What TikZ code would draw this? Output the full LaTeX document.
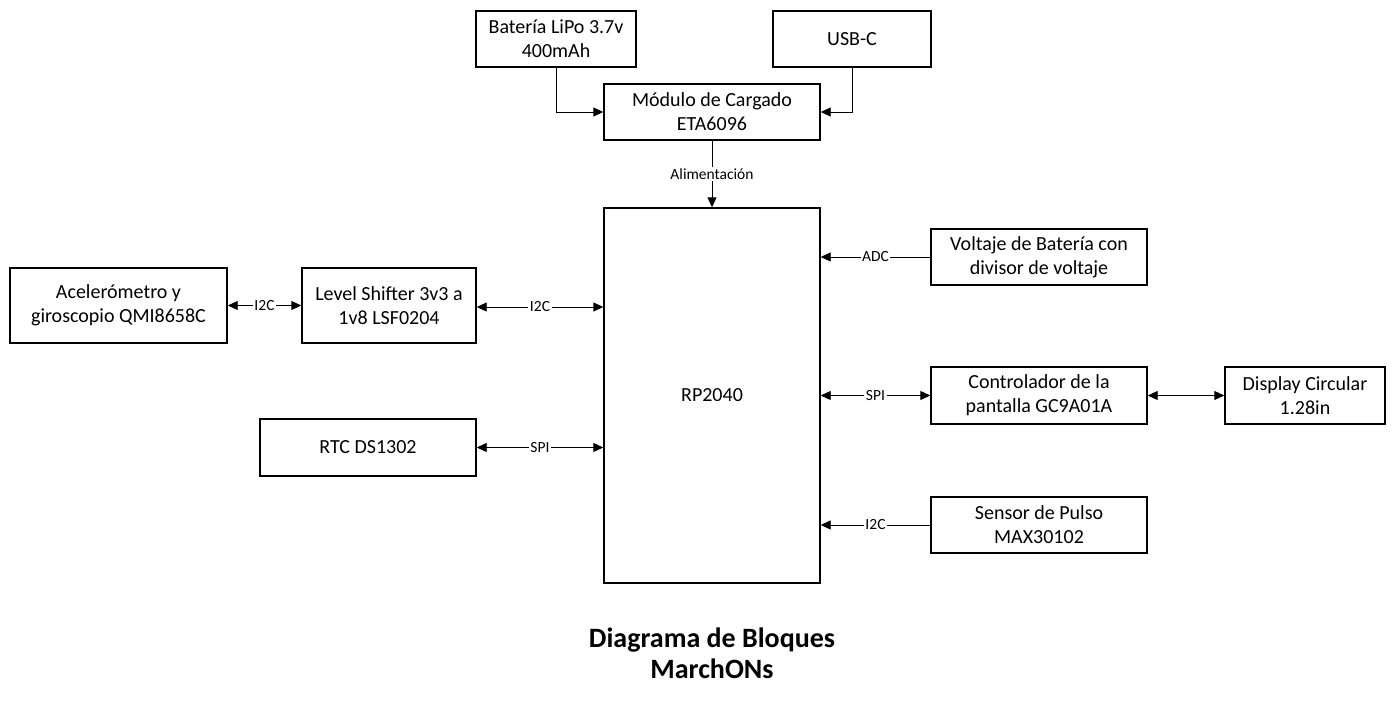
\documentclass[tikz,border=0pt]{standalone}
\usepackage{fontspec}
\setmainfont{Carlito}
\usetikzlibrary{arrows.meta}
\begin{document}
\begin{tikzpicture}[x=1pt,y=-1pt,
  blk/.style={draw,line width=1.4pt,minimum height=56pt,align=center,font=\fontsize{20}{24}\selectfont,inner sep=0pt},
  conn/.style={line width=0.9pt},
  tip/.style={-{Triangle[length=10pt,width=9pt]}},
  bitip/.style={{Triangle[length=10pt,width=9pt]}-{Triangle[length=10pt,width=9pt]}},
  lbl/.style={fill=white,inner sep=1.5pt,font=\fontsize{15.5}{17}\selectfont}]
\useasboundingbox (0,0) rectangle (1394,712);
\node[blk,minimum width=160pt] (bat) at (556,39) {Batería LiPo 3.7v\\400mAh};
\node[blk,minimum width=158pt] (usb) at (852,39) {USB-C};
\node[blk,minimum width=216pt] (mod) at (712,112) {Módulo de Cargado\\ETA6096};
\node[blk,minimum width=216pt,minimum height=375pt] (rp) at (712,395.5) {RP2040};
\node[blk,minimum width=217pt,minimum height=75pt] (acc) at (118.5,305.5) {Acelerómetro y\\giroscopio QMI8658C};
\node[blk,minimum width=174pt,minimum height=75pt] (ls) at (389,305.5) {Level Shifter 3v3 a\\1v8 LSF0204};
\node[blk,minimum width=216pt,minimum height=57pt] (rtc) at (368,447.5) {RTC DS1302};
\node[blk,minimum width=216pt] (volt) at (1039,257) {Voltaje de Batería con\\divisor de voltaje};
\node[blk,minimum width=216pt,minimum height=57pt] (ctrl) at (1039,395.5) {Controlador de la\\pantalla GC9A01A};
\node[blk,minimum width=160pt,minimum height=57pt] (disp) at (1305,395.5) {Display Circular\\1.28in};
\node[blk,minimum width=216pt] (sens) at (1039,525) {Sensor de Pulso\\MAX30102};
\node[align=center,font=\fontsize{28}{31}\selectfont\bfseries] (title) at (712,653) {Diagrama de Bloques\\MarchONs};

\draw[conn,tip] (bat.south) |- (mod.west);
\draw[conn,tip] (usb.south) |- (mod.east);
\draw[conn,tip] (mod.south) -- node[lbl] {Alimentación} (rp.north);
\draw[conn,bitip] (acc.east) -- node[lbl] {I2C} (ls.east -| ls.west);
\draw[conn,bitip] (ls.east |- 0,307) -- node[lbl] {I2C} (rp.west |- 0,307);
\draw[conn,bitip] (rtc.east) -- node[lbl] {SPI} (rtc.east -| rp.west);
\draw[conn,tip] (volt.west) -- node[lbl] {ADC} (volt.west -| rp.east);
\draw[conn,bitip] (rp.east |- ctrl.west) -- node[lbl] {SPI} (ctrl.west);
\draw[conn,bitip] (ctrl.east) -- (disp.west);
\draw[conn,tip] (sens.west) -- node[lbl] {I2C} (sens.west -| rp.east);
\end{tikzpicture}
\end{document}
